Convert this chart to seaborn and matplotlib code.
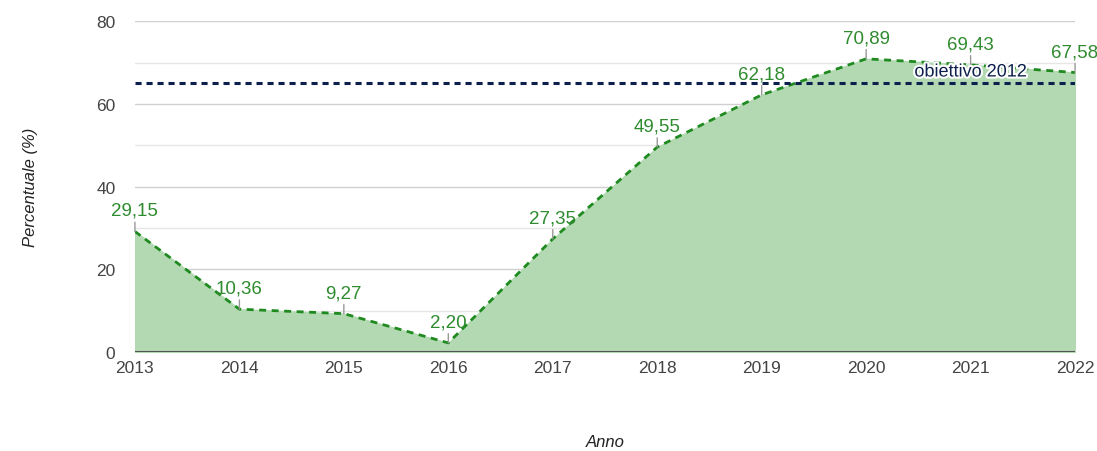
import numpy as np
import pandas as pd
import seaborn as sns
import matplotlib.pyplot as plt
import matplotlib.patheffects as pe

anni = [2013, 2014, 2015, 2016, 2017, 2018, 2019, 2020, 2021, 2022]
percentuale = [29.15, 10.36, 9.27, 2.20, 27.35, 49.55, 62.18, 70.89, 69.43, 67.58]
obiettivo = 65
obiettivo_label = "obiettivo 2012"

df = pd.DataFrame({"Anno": anni, "Percentuale": percentuale})

sns.set_style("white")
plt.rcParams['font.family'] = ['Liberation Sans', 'DejaVu Sans']

fig = plt.figure(figsize=(10.97, 4.52), dpi=100)
ax = fig.add_axes([0.123, 0.219, 0.857, 0.732])

"""Grid: major every 20, minor every 10."""
for y in range(10, 81, 10):
    ax.axhline(y, color='#e6e6e6' if y % 20 else '#d0d0d0', lw=1, zorder=0)

ax.fill_between(df["Anno"], df["Percentuale"], 0, color='#b3d9b3', zorder=1)
sns.lineplot(data=df, x="Anno", y="Percentuale", ax=ax, color='#1f8a1f',
             lw=2, linestyle=(0, (2.5, 2)), zorder=3)
ax.axhline(obiettivo, color='#0d1f4d', lw=2.2, linestyle=(0, (2, 1.6)), zorder=4)
ax.axhline(0, color='#555555', lw=1.5, zorder=5)

"""Value labels with little leader ticks."""
for x, y in zip(anni, percentuale):
    ax.annotate(f"{y:.2f}".replace('.', ','), xy=(x, y), xytext=(0, 9),
                textcoords='offset points', ha='center', va='bottom',
                color='#2e8b2e', fontsize=13.5, zorder=6,
                arrowprops=dict(arrowstyle='-', color='#999999', lw=1,
                                shrinkA=0, shrinkB=0))

ax.text(2021.0, 67.7, obiettivo_label, ha='center', va='center',
        color='#0d1f4d', fontsize=13, zorder=7,
        path_effects=[pe.withStroke(linewidth=3, foreground='white')])

ax.set_xlim(2013, 2022)
ax.set_ylim(0, 80)
ax.set_xticks(anni)
ax.set_yticks([0, 20, 40, 60, 80])
ax.tick_params(axis='both', length=0, labelsize=12.5, colors='#444444', pad=6)
ax.tick_params(axis='y', pad=14)
for s in ax.spines.values():
    s.set_visible(False)

ax.set_xlabel("")
ax.set_ylabel("")
fig.text(0.552, 0.02, "Anno", ha='center', va='center', style='italic',
         fontsize=12, color='#222222')
fig.text(0.028, 0.585, "Percentuale (%)", ha='center', va='center',
         rotation=90, style='italic', fontsize=12, color='#222222')

fig.savefig("out.png", dpi=100)
